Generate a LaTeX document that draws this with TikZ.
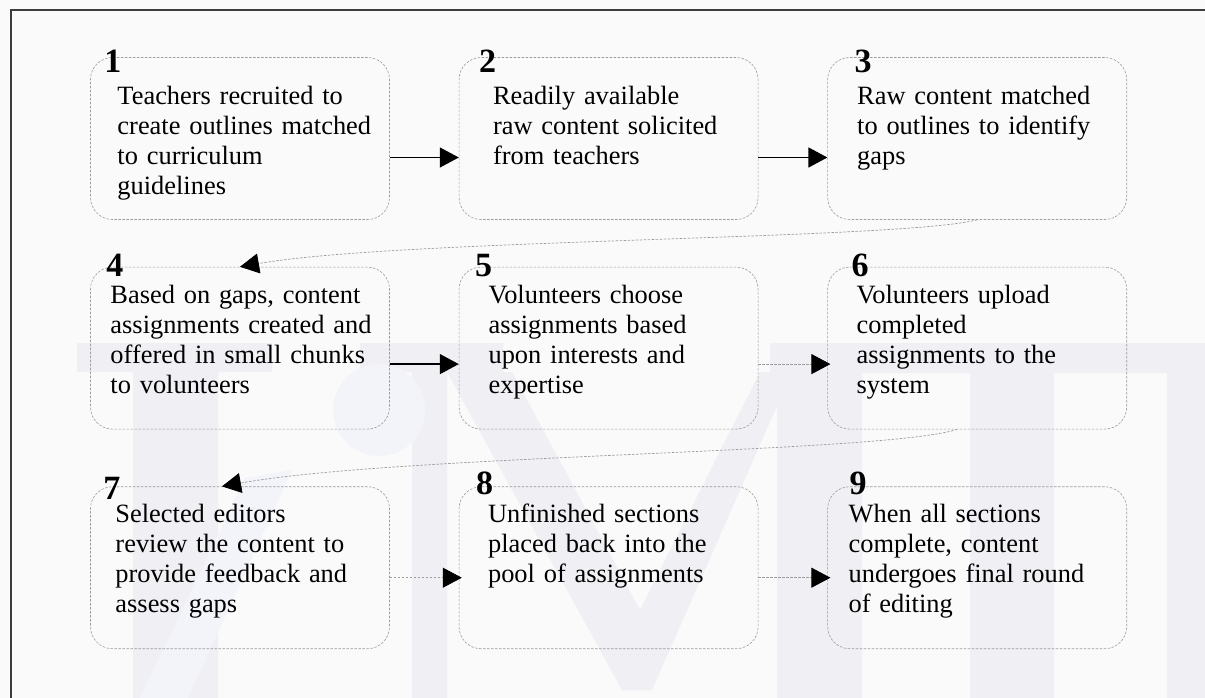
\documentclass[tikz,border=0pt]{standalone}
\usepackage{fontspec}
\setmainfont{Liberation Serif}
\usepackage{tikz}
\usetikzlibrary{matrix,arrows.meta,backgrounds}
\definecolor{pagebg}{HTML}{FAFAFA}
\definecolor{boxline}{HTML}{9C9C9C}
\definecolor{frameline}{HTML}{3C3C3C}
\definecolor{marklilac}{HTML}{EFEFF4}
\definecolor{markblue}{HTML}{F2F4FA}

\begin{document}
\begin{tikzpicture}[x=1pt,y=-1pt,
flow/.style={matrix of nodes, inner sep=0pt, nodes={draw=boxline, line width=0.6pt,
    dash pattern=on 2.5pt off 1.5pt, rounded corners=22pt, minimum width=299pt,
    text width=290pt, inner xsep=0pt, inner ysep=0pt, align=left, anchor=center,
    font=\fontsize{26.4}{30}\selectfont, text height=36pt, text depth=126pt,
    execute at begin node={\leftskip=25pt}},
  column sep=69pt, row sep=47pt,
  row 1/.style={nodes={text height=47pt, text depth=115pt}}},
lskip/.style={execute at begin node={\leftskip=#1}},
stepnum/.style={anchor=base west, inner sep=0pt, font=\bfseries\fontsize{34}{34}\selectfont},
flowarrow/.style={line width=1.3pt, -{Triangle[length=19pt, width=20pt]}},
dasharrow/.style={draw=boxline, line width=0.7pt, dash pattern=on 2.5pt off 1.5pt,
  -{Triangle[length=19pt, width=20pt, color=black]}}]
\path[use as bounding box, fill=pagebg] (0,0) rectangle (1205,698);

% faint logo behind the boxes
\fill[marklilac] (77,343) rectangle (272,372) (133,343) rectangle (218,698)
  (360,343) rectangle (503,372) (412,343) rectangle (447,698);
\fill[markblue] (379,410) circle[radius=46];
\fill[markblue] (245,478) -- (292,470) -- (188,698) -- (140,698) -- cycle;
\fill[marklilac] (447,372) -- (512,372) -- (640,610) -- (760,372) -- (792,372)
  -- (652,690) -- (622,690) -- cycle;
\fill[marklilac] (770,343) rectangle (1205,373) (777,373) rectangle (862,698)
  (970,373) rectangle (1054,698) (1167,373) rectangle (1205,698);

\draw[frameline, line width=1.2pt] (11,720) -- (11,10) -- (1220,10);

\matrix[flow, anchor=north west] (flow) at (90,57) {
|[lskip=22.5pt]| {Teachers recruited to\\ create outlines matched\\ to curriculum\\ guidelines} &
|[lskip=29.5pt]| {Readily available\\ raw content solicited\\ from teachers} &
{Raw content matched\\ to outlines to identify\\ gaps} \\
|[lskip=15.5pt]| {Based on gaps, content\\ assignments created and\\ offered in small chunks\\ to volunteers} &
{Volunteers choose\\ assignments based\\ upon interests and\\ expertise} &
|[lskip=24.5pt]| {Volunteers upload\\ completed\\ assignments to the\\ system} \\[10pt]
|[lskip=20.5pt]| {Selected editors\\ review the content to\\ provide feedback and\\ assess gaps} &
|[lskip=24.5pt]| {Unfinished sections\\ placed back into the\\ pool of assignments} &
|[lskip=16.5pt]| {When all sections\\ complete, content\\ undergoes final round\\ of editing} \\
};

% step numbers on the top left corners
\foreach \r/\c/\n/\dx/\dy in {1/1/1/14/15, 1/2/2/20/15, 1/3/3/27/15,
  2/1/4/16/10, 2/2/5/16/10, 2/3/6/24/10, 3/1/7/13/13, 3/2/8/17/8, 3/3/9/22/8}
  \node[stepnum] (num-\n) at ([shift={(\dx,\dy)}]flow-\r-\c.north west) {\n};

\draw[flowarrow] ([yshift=-19pt]flow-1-1.east) -- ([yshift=-19pt]flow-1-2.west);
\draw[flowarrow] ([yshift=-19pt]flow-1-2.east) -- ([yshift=-19pt]flow-1-3.west);
\draw[flowarrow] ([yshift=-16pt]flow-2-1.east) -- ([yshift=-16pt]flow-2-2.west);
\draw[dasharrow, shorten >=-3pt] ([yshift=-16pt]flow-2-2.east) -- ([yshift=-16pt]flow-2-3.west);
\draw[dasharrow, shorten >=-3pt] ([yshift=-10pt]flow-3-1.east) -- ([yshift=-10pt]flow-3-2.west);
\draw[dasharrow, shorten >=-3pt] ([yshift=-10pt]flow-3-2.east) -- ([yshift=-10pt]flow-3-3.west);
\draw[dasharrow] (flow-1-3.south) .. controls +(-77,20) and +(160,-28) .. (flow-2-1.north);
\draw[dasharrow] ([xshift=-20pt]flow-2-3.south) .. controls +(-75,24) and +(178,-32) .. ([xshift=-18pt]flow-3-1.north);
\end{tikzpicture}
\end{document}
